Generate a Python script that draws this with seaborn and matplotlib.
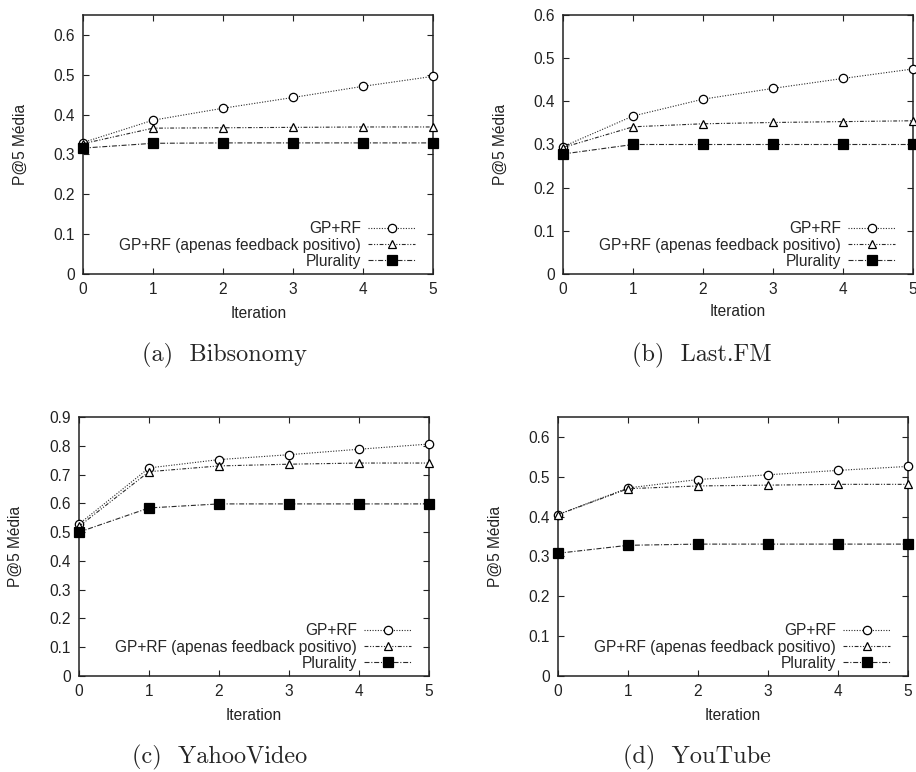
import matplotlib
matplotlib.use("Agg")
import matplotlib.pyplot as plt
from matplotlib.ticker import FuncFormatter
import numpy as np
import pandas as pd
import seaborn as sns

# ---- data -------------------------------------------------------------
iterations = [0, 1, 2, 3, 4, 5]
series_names = ["GP+RF", "GP+RF (apenas feedback positivo)", "Plurality"]

datasets = ["Bibsonomy", "Last.FM", "YahooVideo", "YouTube"]
captions = ["(a)  Bibsonomy", "(b)  Last.FM", "(c)  YahooVideo", "(d)  YouTube"]

bib_gprf = [0.330, 0.386, 0.416, 0.443, 0.471, 0.496]
bib_pos = [0.327, 0.366, 0.367, 0.368, 0.369, 0.369]
bib_plur = [0.316, 0.328, 0.329, 0.329, 0.329, 0.329]

lfm_gprf = [0.295, 0.366, 0.405, 0.430, 0.453, 0.475]
lfm_pos = [0.293, 0.341, 0.348, 0.351, 0.353, 0.355]
lfm_plur = [0.278, 0.300, 0.300, 0.300, 0.300, 0.300]

yv_gprf = [0.528, 0.723, 0.752, 0.769, 0.788, 0.806]
yv_pos = [0.520, 0.710, 0.730, 0.736, 0.740, 0.740]
yv_plur = [0.500, 0.584, 0.598, 0.598, 0.598, 0.598]

yt_gprf = [0.405, 0.472, 0.493, 0.505, 0.516, 0.526]
yt_pos = [0.405, 0.470, 0.477, 0.479, 0.481, 0.481]
yt_plur = [0.308, 0.328, 0.331, 0.331, 0.331, 0.331]

y_max = [0.65, 0.6, 0.9, 0.65]
y_tick_top = [0.6, 0.6, 0.9, 0.6]

values = {
    "Bibsonomy": [bib_gprf, bib_pos, bib_plur],
    "Last.FM": [lfm_gprf, lfm_pos, lfm_plur],
    "YahooVideo": [yv_gprf, yv_pos, yv_plur],
    "YouTube": [yt_gprf, yt_pos, yt_plur],
}

# ---- styling ----------------------------------------------------------
sns.set_style("ticks")
plt.rcParams["font.family"] = ["Liberation Sans", "DejaVu Sans"]

W, H = 916, 772
fig = plt.figure(figsize=(W / 100, H / 100), dpi=100)

# panel boxes in pixels: left, top, right, bottom
boxes = [(83, 15, 433, 274), (563, 15, 913, 274),
         (79, 417, 429, 676), (558, 417, 908, 676)]
ylabel_x = [20, 500, 15, 495]
xlabel_pos = [(259, 313), (738, 312), (254, 715), (733, 715)]
caption_pos = [(224, 355), (702, 355), (220, 757), (697, 757)]

txt_size = 11.2
line_color = "#2a2a2a"
styles = [
    dict(marker="o", markersize=6, markerfacecolor="white",
         linestyle=(0, (1, 1.4)), mew=0.9),
    dict(marker="^", markersize=6, markerfacecolor="white",
         linestyle=(0, (3.5, 1.5, 1, 1.5, 1, 1.5)), mew=0.9),
    dict(marker="s", markersize=7, markerfacecolor="black",
         linestyle=(0, (4.5, 1.6, 1, 1.6)), mew=0.9),
]

fmt = FuncFormatter(lambda v, p: "0" if abs(v) < 1e-9 else f"{v:.1f}")

for i, name in enumerate(datasets):
    l, t, r, b = boxes[i]
    ax = fig.add_axes([l / W, 1 - b / H, (r - l) / W, (b - t) / H])
    df = pd.DataFrame({
        "Iteration": iterations * 3,
        "value": sum(values[name], []),
        "series": sum([[s] * len(iterations) for s in series_names], []),
    })
    for s, st in zip(series_names, styles):
        sub = df[df["series"] == s]
        sns.lineplot(data=sub, x="Iteration", y="value", ax=ax, label=s,
                     color=line_color, markeredgecolor="black", lw=0.8,
                     clip_on=False, zorder=3, **st)
    ax.set_xlim(0, 5)
    ax.set_ylim(0, y_max[i])
    ax.set_xticks(iterations)
    ax.set_yticks(np.round(np.arange(0, y_tick_top[i] + 1e-9, 0.1), 1))
    ax.yaxis.set_major_formatter(fmt)
    ax.tick_params(direction="in", top=True, right=True, length=4,
                   width=0.8, labelsize=txt_size, pad=6, colors="#222222")
    for sp in ax.spines.values():
        sp.set_linewidth(1.1)
        sp.set_color("#222222")
    ax.set_xlabel("")
    ax.set_ylabel("")
    fig.text(ylabel_x[i] / W, 1 - ((t + b) / 2) / H, "P@5 Média",
             rotation=90, ha="center", va="center", fontsize=txt_size,
             color="#222222")
    fig.text(xlabel_pos[i][0] / W, 1 - xlabel_pos[i][1] / H, "Iteration",
             ha="center", va="center", fontsize=txt_size, color="#222222")
    fig.text(caption_pos[i][0] / W, 1 - caption_pos[i][1] / H, captions[i],
             ha="center", va="center", fontsize=17.5, family="cmr10")
    ax.legend(loc="lower right", bbox_to_anchor=(0.949, 0.02),
              frameon=False, borderpad=0, borderaxespad=0,
              fontsize=txt_size, handlelength=3.0, handletextpad=0.5,
              labelspacing=0.08, markerfirst=False, numpoints=1)

fig.savefig("out.png", dpi=100)
